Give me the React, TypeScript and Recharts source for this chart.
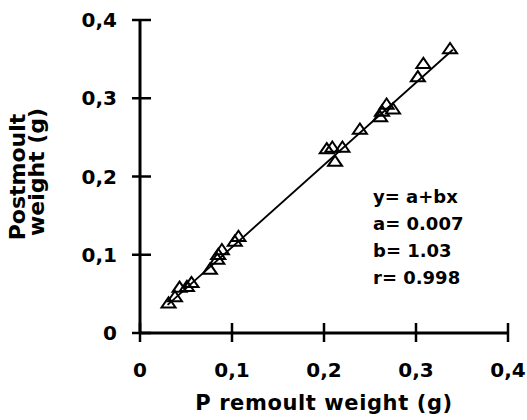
import React from "react";
import { Scatter, ScatterChart, XAxis, YAxis, Label } from "recharts";

// premoult (x) vs postmoult (y) weights in grams
const PREMOULT = [
  0.031, 0.038, 0.043, 0.051, 0.056, 0.076, 0.084, 0.085, 0.089, 0.103,
  0.107, 0.203, 0.209, 0.212, 0.22, 0.239, 0.261, 0.263, 0.268, 0.275,
  0.302, 0.308, 0.337,
];
const POSTMOULT = [
  0.038, 0.046, 0.058, 0.059, 0.064, 0.081, 0.094, 0.1, 0.106, 0.117,
  0.123, 0.235, 0.237, 0.219, 0.237, 0.26, 0.276, 0.283, 0.292, 0.286,
  0.327, 0.344, 0.363,
];

// regression line end points
const FIT_X = [0.03, 0.34];
const FIT_Y = [0.036, 0.362];

const AXIS_TICKS = [0, 0.1, 0.2, 0.3, 0.4];
const FIT_TEXT = ["y= a+bx", "a= 0.007", "b= 1.03", "r= 0.998"];

const points = PREMOULT.map((x, i) => ({ x, y: POSTMOULT[i] }));
const fitLine = FIT_X.map((x, i) => ({ x, y: FIT_Y[i] }));

const FONT = "'DejaVu Sans', sans-serif";
const fmt = (v: number) => (v === 0 ? "0" : String(v).replace(".", ","));

const Triangle = (props: any) => {
  const { cx, cy } = props;
  const s = 6;
  return (
    <polygon
      points={`${cx},${cy - s} ${cx - s - 1},${cy + s * 0.7} ${cx + s + 1},${cy + s * 0.7}`}
      fill="none"
      stroke="#000"
      strokeWidth={2}
    />
  );
};

const YTick = (props: any) => {
  const { x, y, payload } = props;
  return (
    <g>
      <line x1={x - 8} x2={x + 11} y1={y} y2={y} stroke="#000" strokeWidth={2.5} />
      <text
        x={x - 23}
        y={y}
        dy={7}
        textAnchor="end"
        fontFamily={FONT}
        fontWeight="bold"
        fontSize={20}
        fill="#000"
      >
        {fmt(payload.value)}
      </text>
    </g>
  );
};

const XTick = (props: any) => {
  const { x, y, payload } = props;
  return (
    <g>
      <line x1={x} x2={x} y1={y - 10} y2={y + 9} stroke="#000" strokeWidth={2.5} />
      <text
        x={x}
        y={y}
        dy={44}
        textAnchor="middle"
        fontFamily={FONT}
        fontWeight="bold"
        fontSize={20}
        fill="#000"
      >
        {fmt(payload.value)}
      </text>
    </g>
  );
};

const YTitle = () => (
  <g fontFamily={FONT} fontWeight="bold" fontSize={22} fill="#000">
    <text transform="translate(25,177) rotate(-90)" textAnchor="middle">
      Postmoult
    </text>
    <text transform="translate(44,172) rotate(-90)" textAnchor="middle">
      weight (g)
    </text>
  </g>
);

export default function App() {
  return (
    <div style={{ position: "absolute", left: 0, top: 0, background: "#fff" }}>
      <ScatterChart
        width={527}
        height={420}
        margin={{ top: 20, right: 19, left: 0, bottom: 0 }}
      >
        <XAxis
          type="number"
          dataKey="x"
          domain={[0, 0.4]}
          ticks={AXIS_TICKS}
          height={87}
          tickSize={0}
          tickMargin={0}
          tickLine={false}
          axisLine={{ stroke: "#000", strokeWidth: 3 }}
          tick={<XTick />}
          interval={0}
        >
          <Label
            value="P remoult weight (g)"
            position="insideBottom"
            offset={10}
            style={{
              fontFamily: FONT,
              fontWeight: "bold",
              fontSize: 21,
              fill: "#000",
              letterSpacing: 0.6,
            }}
          />
        </XAxis>
        <YAxis
          type="number"
          dataKey="y"
          domain={[0, 0.4]}
          ticks={AXIS_TICKS}
          width={140}
          tickSize={0}
          tickMargin={0}
          tickLine={false}
          axisLine={{ stroke: "#000", strokeWidth: 3 }}
          tick={<YTick />}
          interval={0}
        >
          <Label content={<YTitle />} />
        </YAxis>
        <Scatter
          data={fitLine}
          line={{ stroke: "#000", strokeWidth: 1.8 }}
          shape={() => <g />}
          isAnimationActive={false}
        />
        <Scatter data={points} shape={<Triangle />} isAnimationActive={false} />
      </ScatterChart>
      <svg
        width={160}
        height={110}
        style={{ position: "absolute", left: 371, top: 182 }}
      >
        {FIT_TEXT.map((t, i) => (
          <text
            key={t}
            x={2}
            y={21 + i * 27}
            fontFamily={FONT}
            fontWeight="bold"
            fontSize={18}
            fill="#000"
          >
            {t}
          </text>
        ))}
      </svg>
    </div>
  );
}
